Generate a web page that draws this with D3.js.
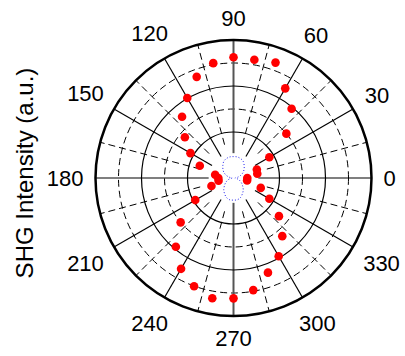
<!DOCTYPE html>
<head>
<meta charset="utf-8">
<style>
body { margin: 0; background: #fff; }
text { font-family: Arial, "Liberation Sans", sans-serif; fill: #000; }
</style>
</head>
<body>
<script src="https://cdn.jsdelivr.net/npm/d3@7/dist/d3.min.js"></script>
<script>
// polarization angle (deg) of each measurement
var angles = [0, 10, 20, 30, 40, 50, 60, 70, 80, 90, 100, 110, 120, 130, 140, 150, 160, 170,
              180, 190, 200, 210, 220, 230, 240, 250, 260, 270, 280, 290, 300, 310, 320, 330, 340, 350];

// SHG intensity, red dots (normalised to outer ring)
var shgValues = [0.10, 0.175, 0.18, 0.30, 0.50, 0.655, 0.75, 0.89, 0.87, 0.875, 0.845, 0.78,
                 0.67, 0.58, 0.46, 0.36, 0.26, 0.135, 0.11, 0.11, 0.17, 0.32, 0.50, 0.65,
                 0.76, 0.835, 0.885, 0.872, 0.825, 0.73, 0.655, 0.55, 0.43, 0.30, 0.21, 0.10];

// small blue dotted trace near the centre
var blueValues = [0.01, 0.03, 0.055, 0.08, 0.10, 0.12, 0.14, 0.15, 0.155, 0.155, 0.155, 0.15,
                  0.14, 0.12, 0.10, 0.08, 0.055, 0.03, 0.01, 0.025, 0.045, 0.065, 0.085, 0.11,
                  0.13, 0.15, 0.16, 0.16, 0.16, 0.15, 0.13, 0.11, 0.085, 0.065, 0.045, 0.025];

var angleTicks = [0, 30, 60, 90, 120, 150, 180, 210, 240, 270, 300, 330];
var minorAngleTicks = [15, 45, 75, 105, 135, 165, 195, 225, 255, 285, 315, 345];
var majorRings = [1 / 3, 2 / 3, 1];
var minorRings = [0.5, 5 / 6];

var width = 405, height = 356;
var cx = 233.5, cy = 178, R = 138;

var svg = d3.select("body").append("svg")
    .attr("width", width)
    .attr("height", height);

var r = d3.scaleLinear().domain([0, 1]).range([0, R]);
var rad = d3.scaleLinear().domain([0, 360]).range([0, 2 * Math.PI]);

function px(a, v) { return cx + r(v) * Math.cos(rad(a)); }
function py(a, v) { return cy - r(v) * Math.sin(rad(a)); }

var grid = svg.append("g");

// dashed rings
grid.selectAll("circle.minor")
    .data(minorRings)
    .enter().append("circle")
    .attr("cx", cx).attr("cy", cy)
    .attr("r", function(d) { return r(d); })
    .attr("fill", "none")
    .attr("stroke", "#000")
    .attr("stroke-width", 1)
    .attr("stroke-dasharray", "7,4");

// dashed spokes
grid.selectAll("line.minor")
    .data(minorAngleTicks)
    .enter().append("line")
    .attr("x1", function(d) { return px(d, 0.25); })
    .attr("y1", function(d) { return py(d, 0.25); })
    .attr("x2", function(d) { return px(d, 1); })
    .attr("y2", function(d) { return py(d, 1); })
    .attr("stroke", "#000")
    .attr("stroke-width", 1)
    .attr("stroke-dasharray", "7,4");

// solid spokes
grid.selectAll("line.major")
    .data(angleTicks)
    .enter().append("line")
    .attr("x1", function(d) { return px(d, 0.18); })
    .attr("y1", function(d) { return py(d, 0.18); })
    .attr("x2", function(d) { return px(d, 1); })
    .attr("y2", function(d) { return py(d, 1); })
    .attr("stroke", function(d) { return (d === 90 || d === 270) ? "#555" : "#000"; })
    .attr("stroke-width", function(d) { return (d === 90 || d === 270) ? 2 : 1.2; });

// solid rings
grid.selectAll("circle.major")
    .data(majorRings)
    .enter().append("circle")
    .attr("cx", cx).attr("cy", cy)
    .attr("r", function(d) { return r(d); })
    .attr("fill", "none")
    .attr("stroke", "#000")
    .attr("stroke-width", function(d) { return d === 1 ? 2.5 : 1.2; });

// angle labels
var labels = svg.append("g").selectAll("text")
    .data(angleTicks)
    .enter().append("text")
    .attr("text-anchor", "middle")
    .style("font-size", "22px")
    .text(function(d) { return d; });

labels.each(function(d) {
    var w = this.getComputedTextLength();
    var c = Math.abs(Math.cos(rad(d))), s = Math.abs(Math.sin(rad(d)));
    var rl = R + 12 + c * w / 2 + s * 10;
    var x = cx + rl * Math.cos(rad(d));
    var y = cy - rl * Math.sin(rad(d));
    d3.select(this).attr("x", x).attr("y", y + 8);
});

// blue dotted trace
var line = d3.lineRadial()
    .angle(function(d, i) { return Math.PI / 2 - rad(angles[i]); })
    .radius(function(d) { return r(d); })
    .curve(d3.curveCardinalClosed);

svg.append("path")
    .datum(blueValues)
    .attr("transform", "translate(" + cx + "," + cy + ")")
    .attr("d", line)
    .attr("fill", "none")
    .attr("stroke", "#2020f0")
    .attr("stroke-width", 1)
    .attr("stroke-dasharray", "1,2");

// red data points
svg.append("g").selectAll("circle")
    .data(shgValues)
    .enter().append("circle")
    .attr("cx", function(d, i) { return px(angles[i], d); })
    .attr("cy", function(d, i) { return py(angles[i], d); })
    .attr("r", 4.3)
    .attr("fill", "#ff0000");

// axis title
svg.append("text")
    .attr("transform", "translate(33,173) rotate(-90)")
    .attr("text-anchor", "middle")
    .style("font-size", "24px")
    .text("SHG Intensity (a.u.)");
</script>
</body>
